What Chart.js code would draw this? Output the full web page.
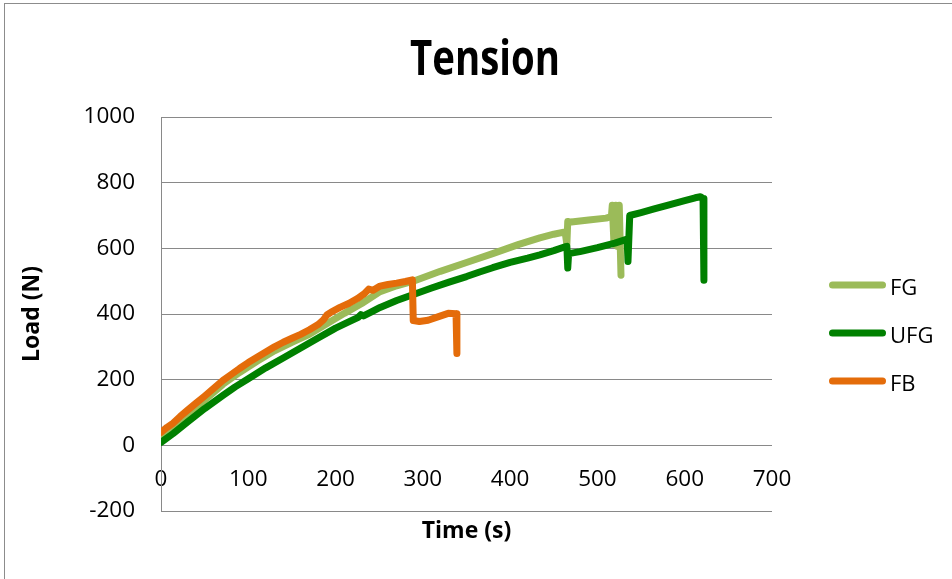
<!DOCTYPE html>
<html>
<head>
<meta charset="utf-8">
<title>Tension</title>
<script src="https://cdn.jsdelivr.net/npm/chart.js@4.4.1/dist/chart.umd.min.js"></script>
<style>
  html, body { margin: 0; padding: 0; background: #ffffff; }
  #wrap { width: 952px; height: 579px; position: relative; }
</style>
</head>
<body>
<div id="wrap"><canvas id="chart" width="952" height="579"></canvas></div>
<script>
// Tension test: load versus time for three specimens
const chartTitle = 'Tension';
const xAxisTitle = 'Time (s)';
const yAxisTitle = 'Load (N)';
const seriesNames = ['FG', 'UFG', 'FB'];

const fgTime = [0, 14, 30, 50, 71, 90, 110, 130, 150, 170, 190, 210, 230, 251, 270, 289, 320, 350, 380, 410, 434, 450, 463, 465, 466, 470, 490, 510, 516, 517, 519, 521, 523, 525, 527];
const fgLoad = [26, 54, 92, 138, 186, 222, 256, 288, 314, 338, 370, 402, 432, 468, 486, 500, 530, 557, 584, 612, 632, 643, 650, 612, 682, 680, 686, 692, 697, 731, 612, 731, 606, 731, 518];

const ufgTime = [0, 14, 30, 50, 71, 85, 100, 120, 140, 159, 180, 200, 215, 226, 229, 232, 240, 251, 270, 290, 310, 330, 350, 365, 380, 400, 420, 434, 450, 463, 465, 466, 467, 480, 500, 520, 534, 535, 537, 550, 565, 580, 600, 612, 618, 621, 622];
const ufgLoad = [9, 36, 70, 112, 152, 178, 203, 236, 266, 295, 327, 357, 376, 390, 398, 394, 405, 420, 441, 460, 479, 497, 514, 528, 541, 557, 570, 580, 593, 605, 606, 540, 584, 590, 602, 616, 628, 560, 700, 709, 720, 731, 745, 754, 757, 752, 503];

const fbTime = [0, 7, 14, 22, 30, 40, 50, 60, 71, 80, 90, 100, 110, 120, 130, 140, 150, 160, 170, 180, 186, 190, 195, 205, 215, 225, 233, 238, 243, 251, 260, 270, 280, 288, 289, 296, 306, 318, 329, 338, 339];
const fbLoad = [40, 55, 68, 88, 106, 128, 150, 173, 198, 215, 234, 252, 268, 284, 300, 314, 326, 338, 352, 368, 382, 397, 406, 420, 432, 447, 462, 476, 472, 485, 490, 494, 499, 504, 380, 377, 381, 392, 402, 401, 280];

const seriesColors = ['#9BBB59', '#008000', '#E46C0A'];

const xTickValues = [0, 100, 200, 300, 400, 500, 600, 700];
const yTickValues = [-200, 0, 200, 400, 600, 800, 1000];

function toPoints(times, loads) {
  return times.map((t, i) => ({ x: t, y: loads[i] }));
}

const GRID = '#898989';
const FONT = '"Open Sans", "DejaVu Sans", sans-serif';

// Outer frame, title and legend drawn around the plot
const frameAndLabels = {
  id: 'frameAndLabels',
  beforeDraw(chart) {
    const { ctx, width, height } = chart;
    ctx.save();
    ctx.fillStyle = '#ffffff';
    ctx.fillRect(0, 0, width, height);
    ctx.strokeStyle = '#8c8c8c';
    ctx.lineWidth = 1;
    ctx.strokeRect(4.5, 3.5, width + 20, height + 20);
    ctx.restore();
  },
  afterDraw(chart) {
    const ctx = chart.ctx;
    ctx.save();
    ctx.fillStyle = '#000000';
    // condensed bold heading
    ctx.translate(485, 75);
    ctx.scale(0.8, 1);
    ctx.font = 'bold 48px ' + FONT;
    ctx.textAlign = 'center';
    ctx.textBaseline = 'alphabetic';
    ctx.fillText(chartTitle, 0, 0);
    ctx.restore();

    ctx.save();
    ctx.font = '22px ' + FONT;
    ctx.textAlign = 'left';
    ctx.textBaseline = 'alphabetic';
    chart.data.datasets.forEach((ds, i) => {
      const y = 285 + i * 48;
      ctx.strokeStyle = ds.borderColor;
      ctx.lineWidth = 7;
      ctx.lineCap = 'round';
      ctx.beginPath();
      ctx.moveTo(832.5, y);
      ctx.lineTo(882.5, y);
      ctx.stroke();
      ctx.fillStyle = '#000000';
      ctx.fillText(ds.label, 890, y + 9.5);
    });
    ctx.restore();
  }
};

const series = [
  { times: fgTime, loads: fgLoad, order: 3 },
  { times: ufgTime, loads: ufgLoad, order: 2 },
  { times: fbTime, loads: fbLoad, order: 1 }
];

new Chart(document.getElementById('chart'), {
  type: 'scatter',
  data: {
    datasets: series.map((s, i) => ({
      label: seriesNames[i],
      data: toPoints(s.times, s.loads),
      borderColor: seriesColors[i],
      backgroundColor: seriesColors[i],
      order: s.order,
      showLine: true,
      pointRadius: 0,
      pointHoverRadius: 0,
      borderWidth: 7,
      borderJoinStyle: 'round',
      borderCapStyle: 'round',
      tension: 0,
      fill: false,
      clip: 0
    }))
  },
  options: {
    responsive: false,
    animation: false,
    devicePixelRatio: 1,
    layout: { padding: { left: 10, right: 180, top: 117, bottom: 0 } },
    plugins: {
      legend: { display: false },
      title: { display: false },
      tooltip: { enabled: false }
    },
    events: [],
    scales: {
      x: {
        type: 'linear',
        position: { y: 0 },
        min: xTickValues[0],
        max: xTickValues[xTickValues.length - 1],
        afterBuildTicks(scale) { scale.ticks = xTickValues.map(v => ({ value: v })); },
        grid: { display: false, drawTicks: false },
        border: { display: false },
        ticks: {
          padding: 21,
          color: '#000000',
          font: { family: FONT, size: 22.5 },
          maxRotation: 0,
          autoSkip: false,
          callback: v => String(v)
        }
      },
      xTitle: {
        type: 'linear',
        position: 'bottom',
        display: true,
        afterFit(scale) { scale.height = 68; },
        grid: { display: false, drawTicks: false },
        border: { display: false },
        ticks: { display: false },
        title: {
          display: true,
          text: xAxisTitle,
          color: '#000000',
          font: { family: FONT, size: 23, weight: 'bold' },
          padding: { top: 0, bottom: 34 }
        }
      },
      y: {
        type: 'linear',
        position: 'left',
        min: yTickValues[0],
        max: yTickValues[yTickValues.length - 1],
        afterBuildTicks(scale) { scale.ticks = yTickValues.map(v => ({ value: v })); },
        afterFit(scale) { scale.width = 151; },
        grid: { color: GRID, lineWidth: 1, drawTicks: false },
        border: { display: true, color: GRID, width: 1 },
        ticks: {
          padding: 26,
          color: '#000000',
          font: { family: FONT, size: 22.5 },
          callback: v => String(v)
        },
        title: {
          display: true,
          text: yAxisTitle,
          color: '#000000',
          font: { family: FONT, size: 23, weight: 'bold' },
          padding: { top: 9, bottom: 0 }
        }
      }
    }
  },
  plugins: [frameAndLabels]
});
</script>
</body>
</html>
